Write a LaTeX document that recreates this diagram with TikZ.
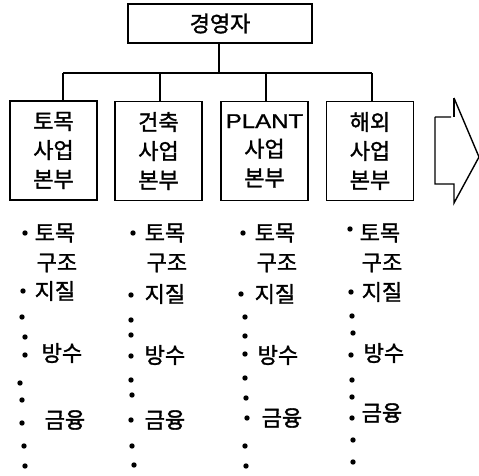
\documentclass[tikz,border=0pt]{standalone}
\usepackage{fontspec}
\setmainfont{Noto Sans CJK KR}[FakeBold=1.5]
\newfontfamily\latinfont{Liberation Sans}[FakeBold=1]
\usetikzlibrary{calc}
\begin{document}
\begin{tikzpicture}[x=1pt,y=-1pt,
  line width=1.4pt,
  every node/.style={font=\fontsize{22}{29}\selectfont},
  boxnode/.style={draw, line width=1.4pt, minimum width=87pt, minimum height=99pt, inner sep=0pt, align=center},
  topbox/.style={draw, line width=1.4pt, minimum width=184pt, minimum height=39pt, inner sep=0pt},
  item/.style={anchor=west, inner sep=0pt},
  dotmark/.style={fill=black}
]
\useasboundingbox (0,0) rectangle (479,476);

\node[topbox] (top) at (220,23.5) {경영자};

\node[boxnode] (b1) at (53.5,150.5) {토목\\사업\\본부};
\node[boxnode] (b2) at (158.5,151) {건축\\사업\\본부};
\node[boxnode] (b3) at (264.5,151) {\scalebox{1.2}[1]{\latinfont\fontsize{20}{29}\selectfont PLANT}\\사업\\본부};
\node[boxnode] (b4) at (370,151) {해외\\사업\\본부};

\coordinate (j0) at (219,73);
\coordinate (j1) at (63,73);
\coordinate (j2) at (160,73);
\coordinate (j3) at (266,73);
\coordinate (j4) at (372,73);
\draw (top.south -| j0) -- (j0);
\draw (j1) -- (j4);
\draw (j1) -- (j1 |- b1.north);
\draw (j2) -- (j2 |- b2.north);
\draw (j3) -- (j3 |- b3.north);
\draw (j4) -- (j4 |- b4.north);

% big arrow
\draw[line join=miter] (435,117) -- (451,117) (454,98) -- (479,157) -- (454,203) -- (454,184) -- (435,184) -- (435,117);
\draw (454,98) -- (454,117);

% column 1
\node[item] (c1a) at (34,233) {토목};
\node[item] (c1b) at (36,263) {구조};
\node[item] (c1c) at (34,291) {지질};
\node[item] (c1d) at (41,353) {방수};
\node[item] (c1e) at (44,420) {금융};
\foreach \p in {(25,233),(23,291),(22,317),(25,337),(25,355),(20,383),(22,400),(22,423),(24,446),(25,466)}
  \fill[dotmark] \p circle (2.7pt);

% column 2
\node[item] (c2a) at (144,233) {토목};
\node[item] (c2b) at (146,263) {구조};
\node[item] (c2c) at (144,294) {지질};
\node[item] (c2d) at (144,355) {방수};
\node[item] (c2e) at (144,420) {금융};
\foreach \p in {(133,233),(131,295),(131,320),(131,335),(131,356),(131,380),(132,395),(131,420),(132,446),(134,465)}
  \fill[dotmark] \p circle (2.7pt);

% column 3
\node[item] (c3a) at (254,233) {토목};
\node[item] (c3b) at (256,263) {구조};
\node[item] (c3c) at (254,294) {지질};
\node[item] (c3d) at (257,355) {방수};
\node[item] (c3e) at (261,418) {금융};
\foreach \p in {(243,233),(241,294),(245,317),(245,336),(245,354),(245,378),(246,398),(247,418),(245,446),(246,466)}
  \fill[dotmark] \p circle (2.7pt);

% column 4
\node[item] (c4a) at (359,233) {토목};
\node[item] (c4b) at (361,263) {구조};
\node[item] (c4c) at (361,292) {지질};
\node[item] (c4d) at (363,353) {방수};
\node[item] (c4e) at (361,413) {금융};
\foreach \p in {(350,229),(351,292),(352,316),(353,333),(351,355),(352,380),(352,397),(352,418),(353,440),(353,462)}
  \fill[dotmark] \p circle (2.7pt);
\end{tikzpicture}
\end{document}
